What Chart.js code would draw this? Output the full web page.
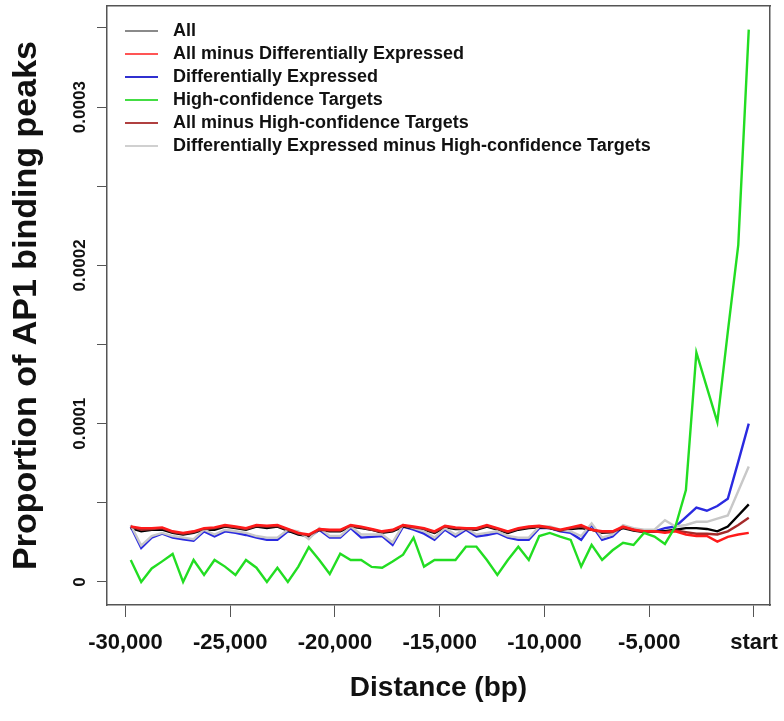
<!DOCTYPE html>
<html>
<head>
<meta charset="utf-8">
<script src="https://cdn.jsdelivr.net/npm/chart.js@4.4.1/dist/chart.umd.min.js"></script>
<style>
html,body{margin:0;padding:0;background:#fff;}
#wrap{width:784px;height:721px;position:relative;}
</style>
</head>
<body>
<div id="wrap"><canvas id="c" width="784" height="721"></canvas></div>
<script>
// Bin centres (bp relative to start)
const distance = [-29750,-29250,-28750,-28250,-27750,-27250,-26750,-26250,-25750,-25250,
  -24750,-24250,-23750,-23250,-22750,-22250,-21750,-21250,-20750,-20250,
  -19750,-19250,-18750,-18250,-17750,-17250,-16750,-16250,-15750,-15250,
  -14750,-14250,-13750,-13250,-12750,-12250,-11750,-11250,-10750,-10250,
  -9750,-9250,-8750,-8250,-7750,-7250,-6750,-6250,-5750,-5250,
  -4750,-4250,-3750,-3250,-2750,-2250,-1750,-1250,-750,-250];

const seriesNames = ['All','All minus Differentially Expressed','Differentially Expressed',
  'High-confidence Targets','All minus High-confidence Targets',
  'Differentially Expressed minus High-confidence Targets'];
const seriesColors = ['#000000','#ff1a1a','#2a2ae0','#22dd22','#a52a2a','#c8c8c8'];
const legendColors = ['#8a8a8a','#ff5555','#3030d0','#44dd44','#b04040','#d0d0d0'];

const allPeaks = [3.4e-5,3.2e-5,3.3e-5,3.3e-5,3.1e-5,3.0e-5,3.1e-5,3.3e-5,3.3e-5,3.5e-5,
  3.4e-5,3.3e-5,3.5e-5,3.4e-5,3.5e-5,3.25e-5,3.0e-5,2.9e-5,3.3e-5,3.2e-5,
  3.2e-5,3.5e-5,3.4e-5,3.3e-5,3.1e-5,3.2e-5,3.5e-5,3.4e-5,3.3e-5,3.1e-5,
  3.45e-5,3.35e-5,3.35e-5,3.3e-5,3.5e-5,3.3e-5,3.1e-5,3.3e-5,3.4e-5,3.45e-5,
  3.4e-5,3.25e-5,3.35e-5,3.4e-5,3.3e-5,3.1e-5,3.15e-5,3.4e-5,3.25e-5,3.15e-5,
  3.2e-5,3.2e-5,3.3e-5,3.4e-5,3.4e-5,3.35e-5,3.2e-5,3.5e-5,4.2e-5,4.9e-5];

const allMinusDE = [3.5e-5,3.4e-5,3.4e-5,3.45e-5,3.2e-5,3.1e-5,3.2e-5,3.4e-5,3.45e-5,3.6e-5,
  3.5e-5,3.4e-5,3.6e-5,3.55e-5,3.6e-5,3.35e-5,3.1e-5,3.0e-5,3.35e-5,3.3e-5,
  3.3e-5,3.6e-5,3.5e-5,3.35e-5,3.2e-5,3.3e-5,3.6e-5,3.5e-5,3.4e-5,3.2e-5,
  3.55e-5,3.45e-5,3.4e-5,3.4e-5,3.6e-5,3.4e-5,3.2e-5,3.4e-5,3.5e-5,3.55e-5,
  3.45e-5,3.3e-5,3.45e-5,3.6e-5,3.3e-5,3.2e-5,3.2e-5,3.5e-5,3.3e-5,3.2e-5,
  3.2e-5,3.1e-5,3.2e-5,3.0e-5,2.9e-5,2.9e-5,2.55e-5,2.85e-5,3.0e-5,3.1e-5];

const diffExpressed = [3.5e-5,2.15e-5,2.8e-5,3.05e-5,2.8e-5,2.7e-5,2.6e-5,3.2e-5,2.87e-5,3.2e-5,
  3.1e-5,2.97e-5,2.8e-5,2.66e-5,2.66e-5,3.2e-5,3.1e-5,2.8e-5,3.3e-5,2.8e-5,
  2.8e-5,3.4e-5,2.8e-5,2.85e-5,2.9e-5,2.34e-5,3.5e-5,3.3e-5,3.05e-5,2.66e-5,
  3.3e-5,2.87e-5,3.3e-5,2.87e-5,2.97e-5,3.1e-5,2.8e-5,2.66e-5,2.66e-5,3.4e-5,
  3.4e-5,3.2e-5,3.1e-5,2.66e-5,3.6e-5,2.66e-5,2.87e-5,3.5e-5,3.3e-5,3.2e-5,
  3.2e-5,3.4e-5,3.5e-5,4.1e-5,4.7e-5,4.5e-5,4.8e-5,5.25e-5,7.6e-5,10.0e-5];

const highConfidence = [1.39e-5,0,0.85e-5,1.3e-5,1.77e-5,0,1.39e-5,0.44e-5,1.39e-5,0.97e-5,
  0.44e-5,1.39e-5,0.9e-5,0,0.9e-5,0,0.97e-5,2.2e-5,1.39e-5,0.5e-5,
  1.78e-5,1.39e-5,1.39e-5,0.95e-5,0.9e-5,1.29e-5,1.72e-5,2.8e-5,0.97e-5,1.39e-5,
  1.39e-5,1.39e-5,2.23e-5,2.23e-5,1.39e-5,0.44e-5,1.39e-5,2.23e-5,1.39e-5,2.9e-5,
  3.1e-5,2.87e-5,2.66e-5,0.97e-5,2.34e-5,1.39e-5,2.0e-5,2.47e-5,2.34e-5,3.1e-5,
  2.87e-5,2.4e-5,3.5e-5,5.8e-5,14.5e-5,12.3e-5,10.1e-5,15.8e-5,21.3e-5,34.9e-5];

const allMinusHC = [3.5e-5,3.3e-5,3.35e-5,3.4e-5,3.15e-5,3.05e-5,3.15e-5,3.35e-5,3.4e-5,3.55e-5,
  3.45e-5,3.35e-5,3.55e-5,3.5e-5,3.55e-5,3.3e-5,3.05e-5,2.95e-5,3.3e-5,3.25e-5,
  3.25e-5,3.55e-5,3.45e-5,3.3e-5,3.15e-5,3.25e-5,3.55e-5,3.45e-5,3.35e-5,3.15e-5,
  3.5e-5,3.4e-5,3.35e-5,3.35e-5,3.55e-5,3.35e-5,3.15e-5,3.35e-5,3.45e-5,3.5e-5,
  3.4e-5,3.25e-5,3.4e-5,3.5e-5,3.3e-5,3.15e-5,3.15e-5,3.45e-5,3.3e-5,3.15e-5,
  3.2e-5,3.15e-5,3.25e-5,3.15e-5,3.05e-5,3.05e-5,3.0e-5,3.2e-5,3.6e-5,4.05e-5];

const deMinusHC = [3.6e-5,2.3e-5,2.9e-5,3.1e-5,2.9e-5,2.8e-5,2.7e-5,3.3e-5,3.0e-5,3.3e-5,
  3.2e-5,3.1e-5,2.9e-5,2.8e-5,2.8e-5,3.3e-5,3.2e-5,2.7e-5,3.4e-5,2.9e-5,
  2.9e-5,3.5e-5,3.0e-5,3.0e-5,3.0e-5,2.5e-5,3.6e-5,3.4e-5,3.2e-5,2.8e-5,
  3.4e-5,3.0e-5,3.4e-5,3.0e-5,3.1e-5,3.2e-5,2.9e-5,2.8e-5,2.8e-5,3.5e-5,
  3.5e-5,3.3e-5,3.2e-5,2.9e-5,3.7e-5,2.8e-5,3.0e-5,3.6e-5,3.4e-5,3.3e-5,
  3.3e-5,3.9e-5,3.5e-5,3.6e-5,3.8e-5,3.8e-5,4.0e-5,4.2e-5,5.75e-5,7.3e-5];

const seriesValues = [allPeaks, allMinusDE, diffExpressed, highConfidence, allMinusHC, deMinusHC];
const drawOrder = [4, 1, 5, 0, 2, 3]; // lower = drawn on top

const xTickValues = [-30000,-25000,-20000,-15000,-10000,-5000,0];
const xTickLabels = ['-30,000','-25,000','-20,000','-15,000','-10,000','-5,000','start'];
const yTickValues = [0,0.00005,0.0001,0.00015,0.0002,0.00025,0.0003,0.00035];
const yTickLabels = ['0','','0.0001','','0.0002','','0.0003',''];

const FONT = "'Liberation Sans', Arial, Helvetica, sans-serif";
Chart.defaults.font.family = FONT;
Chart.defaults.color = '#111';

const datasets = seriesNames.map((name, k) => ({
  label: name,
  data: distance.map((d, i) => ({x: d, y: seriesValues[k][i]})),
  borderColor: seriesColors[k],
  backgroundColor: seriesColors[k],
  borderWidth: 2.4,
  pointRadius: 0,
  tension: 0,
  fill: false,
  order: drawOrder[k]
}));

const legendShift = {
  id: 'legendShift',
  afterLayout(chart) {
    const l = chart.legend;
    if (!l) return;
    l.left += 13; l.right += 13;
    l.top += 17; l.bottom += 17;
  }
};

new Chart(document.getElementById('c'), {
  type: 'line',
  data: {datasets},
  plugins: [legendShift],
  options: {
    responsive: false,
    animation: false,
    devicePixelRatio: 1,
    layout: {padding: {left: 0, right: 14, top: 6, bottom: 0}},
    plugins: {
      tooltip: {enabled: false},
      legend: {
        position: 'chartArea',
        align: 'start',
        labels: {
          boxWidth: 39,
          boxHeight: 0,
          padding: 5,
          color: '#111',
          font: {size: 18, weight: 'bold', family: FONT},
          sort: (a, b) => a.datasetIndex - b.datasetIndex,
          generateLabels: (chart) => {
            const items = Chart.defaults.plugins.legend.labels.generateLabels(chart);
            items.forEach(it => {
              it.fillStyle = 'rgba(0,0,0,0)';
              it.strokeStyle = legendColors[it.datasetIndex];
              it.lineDash = [33, 600];
              it.lineDashOffset = 0;
              it.lineWidth = 2;
              it.lineCap = 'butt';
            });
            return items;
          }
        }
      }
    },
    scales: {
      x: {
        type: 'linear',
        position: 'bottom',
        min: -30883,
        max: 764,
        afterBuildTicks: (s) => { s.ticks = xTickValues.map(v => ({value: v})); },
        afterFit: (s) => { s.height = 116; s.paddingLeft = 0; s.paddingRight = 0; },
        ticks: {
          autoSkip: false, maxRotation: 0, minRotation: 0, padding: 13,
          color: '#111',
          font: {size: 22, weight: 'bold', family: FONT},
          callback: (v, i) => xTickLabels[i]
        },
        grid: {drawOnChartArea: false, drawTicks: true, tickLength: 12, color: '#555', lineWidth: 1},
        border: {display: true, color: '#555', width: 1.5},
        title: {display: true, text: 'Distance (bp)', color: '#111',
          font: {size: 28, weight: 'bold', family: FONT}, padding: {top: 0, bottom: 16}}
      },
      x2: {
        type: 'linear', position: 'top', min: -30883, max: 764,
        afterFit: (s) => { s.height = 0; s.paddingLeft = 0; s.paddingRight = 0; },
        ticks: {display: false},
        grid: {display: false, drawTicks: false},
        border: {display: true, color: '#555', width: 1.5}
      },
      y: {
        type: 'linear',
        position: 'left',
        min: -0.00001456,
        max: 0.0003639,
        afterBuildTicks: (s) => { s.ticks = yTickValues.map(v => ({value: v})); },
        afterFit: (s) => { s.width = 107; s.paddingTop = 0; s.paddingBottom = 0; },
        ticks: {
          autoSkip: false, minRotation: 90, maxRotation: 90, crossAlign: 'center', padding: -9,
          color: '#111',
          font: {size: 17, weight: 'bold', family: FONT},
          callback: (v, i) => yTickLabels[i]
        },
        grid: {drawOnChartArea: false, drawTicks: true, tickLength: 10, color: '#555', lineWidth: 1},
        border: {display: true, color: '#555', width: 1.5},
        title: {display: true, text: 'Proportion of AP1 binding peaks', color: '#111',
          font: {size: 34, weight: 'bold', family: FONT}, padding: {top: 6, bottom: 0}}
      },
      y2: {
        type: 'linear', position: 'right', min: -0.00001456, max: 0.0003639,
        afterFit: (s) => { s.width = 0; s.paddingTop = 0; s.paddingBottom = 0; },
        ticks: {display: false},
        grid: {display: false, drawTicks: false},
        border: {display: true, color: '#555', width: 1.5}
      }
    }
  }
});
</script>
</body>
</html>
